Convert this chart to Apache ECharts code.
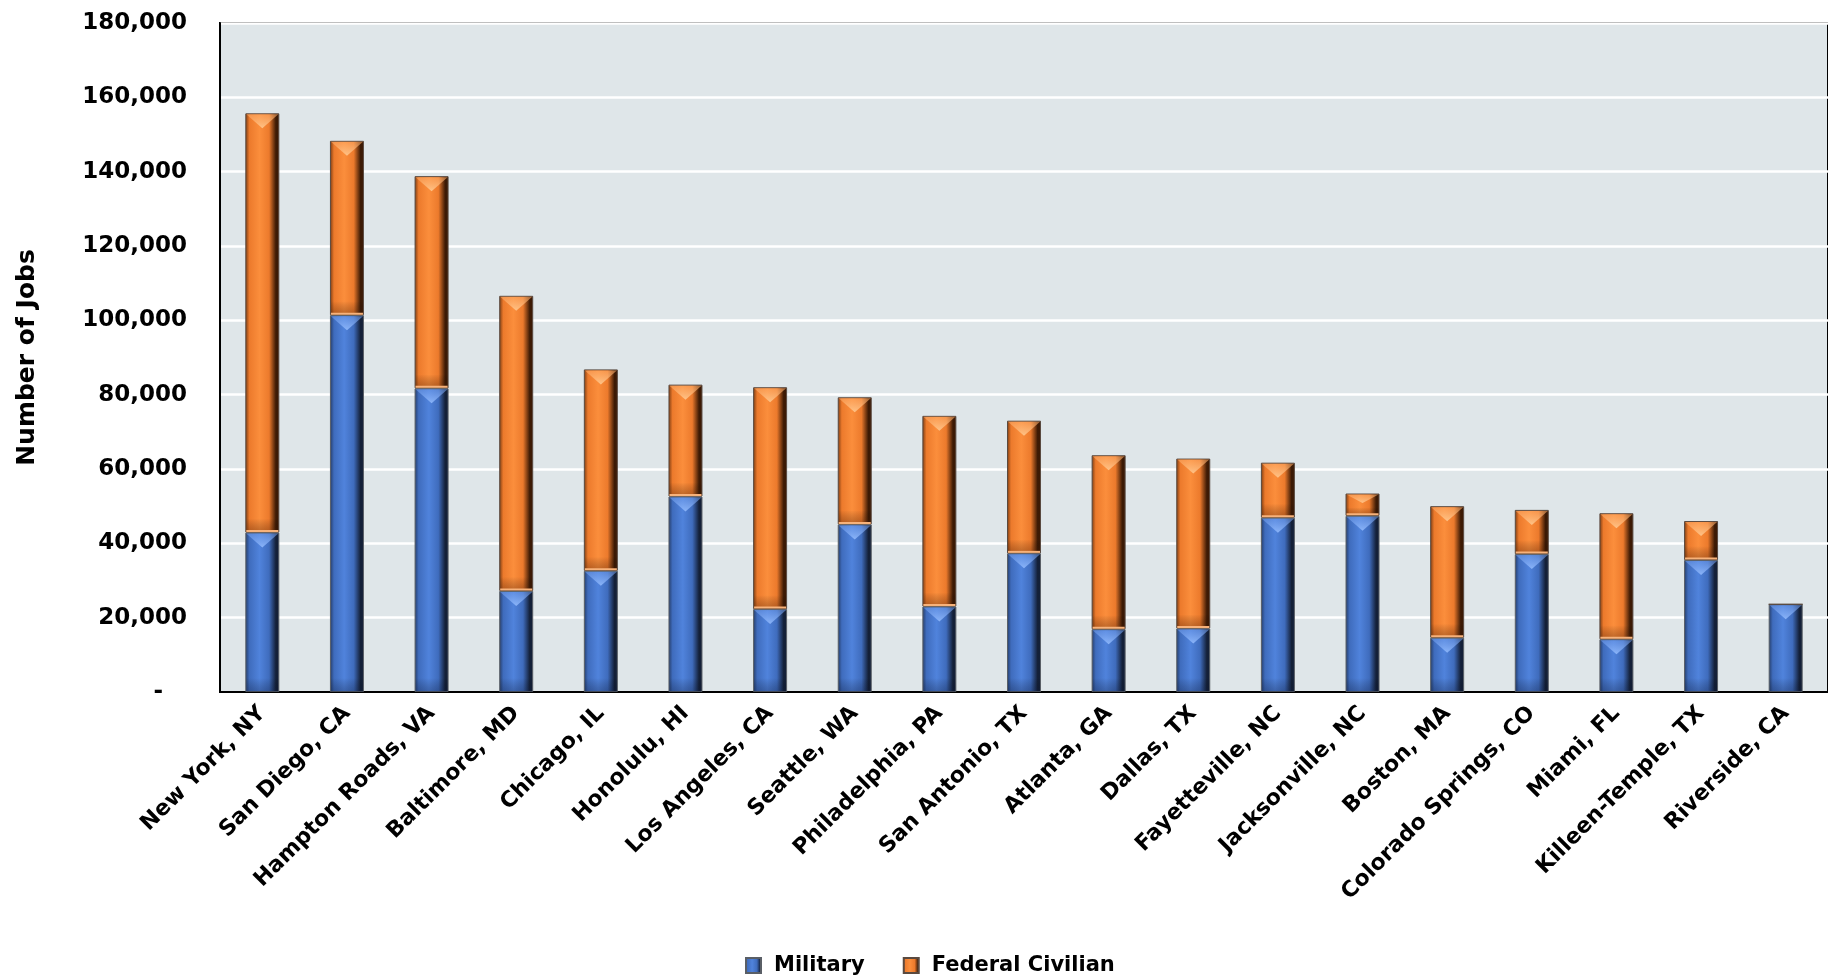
<!DOCTYPE html>
<html>
<head>
<meta charset="utf-8">
<title>Defense Jobs by Metro Area</title>
<script src="https://cdn.jsdelivr.net/npm/echarts@6/dist/echarts.min.js"></script>
<style>
  html, body { margin: 0; padding: 0; background: #ffffff; }
  #chart { width: 1828px; height: 977px; }
</style>
</head>
<body>
<div id="chart"></div>
<script>
// Metro areas, ordered by total defense employment
const metros = [
  'New York, NY', 'San Diego, CA', 'Hampton Roads, VA', 'Baltimore, MD', 'Chicago, IL',
  'Honolulu, HI', 'Los Angeles, CA', 'Seattle, WA', 'Philadelphia, PA', 'San Antonio, TX',
  'Atlanta, GA', 'Dallas, TX', 'Fayetteville, NC', 'Jacksonville, NC', 'Boston, MA',
  'Colorado Springs, CO', 'Miami, FL', 'Killeen-Temple, TX', 'Riverside, CA'
];

// Uniformed military jobs
const military = [
  42900, 101400, 81700, 27200, 32600,
  52600, 22300, 45100, 23000, 37300,
  16900, 17100, 46900, 47400, 14600,
  37100, 14200, 35500, 23600
];

// Federal civilian jobs (stacked on top of military)
const federalCivilian = [
  112800, 46900, 57100, 79400, 54200,
  30100, 59700, 34200, 51300, 35700,
  46800, 45700, 14800, 6000, 35400,
  11900, 33900, 10500, 0
];

const seriesNames = ['Military', 'Federal Civilian'];
const yTicks = { min: 0, max: 180000, step: 20000 };

const FONT = '"DejaVu Sans", "Open Sans", sans-serif';
const BAR_W = 34;

function cylinder(edgeL, mid, bright, edgeR) {
  return new echarts.graphic.LinearGradient(0, 0, 1, 0, [
    { offset: 0, color: edgeL },
    { offset: 0.12, color: mid },
    { offset: 0.42, color: bright },
    { offset: 0.7, color: mid },
    { offset: 0.9, color: edgeR },
    { offset: 1, color: edgeR }
  ]);
}

const blueFill = cylinder('#243b66', '#3f6cbd', '#5083dc', '#142038');
const orangeFill = cylinder('#7a3a10', '#ec7a2c', '#fb8e3c', '#3c1a05');

// Bevel segments: [category index, lower value, upper value, kind (0 = military, 1 = civilian)]
const bevelData = [];
metros.forEach(function (_, i) {
  bevelData.push([i, 0, military[i], 0]);
  if (federalCivilian[i] > 0) {
    bevelData.push([i, military[i], military[i] + federalCivilian[i], 1]);
  }
});

function renderBevel(params, api) {
  const i = api.value(0);
  const lo = api.value(1);
  const hi = api.value(2);
  const kind = api.value(3);
  const top = api.coord([i, hi]);
  const bot = api.coord([i, lo]);
  const cx = top[0];
  const xl = cx - BAR_W / 2 + 1;
  const xr = cx + BAR_W / 2 - 1;
  const yt = top[1] + 1;
  const yb = bot[1];
  const h = Math.min(14, (yb - yt) / 2.5);
  const children = [];
  // darker shading at the foot of the segment
  children.push({
    type: 'rect',
    shape: { x: xl, y: yb - h, width: xr - xl, height: h },
    style: {
      fill: new echarts.graphic.LinearGradient(0, 0, 0, 1, [
        { offset: 0, color: 'rgba(0,0,0,0)' },
        { offset: 1, color: kind === 1 ? 'rgba(70,25,0,0.35)' : 'rgba(10,20,50,0.3)' }
      ])
    }
  });
  // downward chevron highlight at the top face
  children.push({
    type: 'polygon',
    shape: { points: [[xl, yt], [xr, yt], [cx, yt + h]] },
    style: {
      fill: new echarts.graphic.LinearGradient(0, 0, 0, 1, kind === 1 ? [
        { offset: 0, color: 'rgba(255,170,100,0.55)' },
        { offset: 1, color: 'rgba(255,205,150,0.85)' }
      ] : [
        { offset: 0, color: 'rgba(110,155,235,0.55)' },
        { offset: 1, color: 'rgba(150,190,255,0.85)' }
      ])
    }
  });
  // thin light seam where the civilian segment sits on the military one
  if (kind === 1) {
    children.push({
      type: 'line',
      shape: { x1: xl, y1: yb - 1.5, x2: xr, y2: yb - 1.5 },
      style: { stroke: '#f7b27a', lineWidth: 2 }
    });
  }
  return { type: 'group', children: children };
}

const chart = echarts.init(document.getElementById('chart'), null, { renderer: 'canvas' });

chart.setOption({
  animation: false,
  backgroundColor: '#ffffff',
  grid: {
    left: 220, top: 23, right: -14, bottom: 285,
    show: true,
    backgroundColor: '#dfe6e9',
    borderColor: '#000000',
    borderWidth: 2
  },
  legend: {
    data: seriesNames,
    left: 740,
    top: 950,
    itemWidth: 15,
    itemHeight: 15,
    itemGap: 38,
    icon: 'rect',
    textStyle: { fontFamily: FONT, fontWeight: 'bold', fontSize: 21, color: '#000000', padding: [0, 0, 0, 8] }
  },
  xAxis: {
    type: 'category',
    data: metros,
    axisLine: { show: true, lineStyle: { color: '#000000', width: 2 } },
    axisTick: { show: false },
    axisLabel: {
      interval: 0,
      rotate: 45,
      margin: 18,
      fontFamily: FONT,
      fontWeight: 'bold',
      fontSize: 22,
      color: '#000000'
    }
  },
  yAxis: {
    type: 'value',
    min: yTicks.min,
    max: yTicks.max,
    interval: yTicks.step,
    name: 'Number of Jobs',
    nameLocation: 'middle',
    nameGap: 180,
    nameRotate: 90,
    nameTextStyle: { fontFamily: FONT, fontWeight: 'bold', fontSize: 25, color: '#000000' },
    axisLine: { show: true, lineStyle: { color: '#000000', width: 2 } },
    axisTick: { show: false },
    splitLine: { show: true, lineStyle: { color: '#ffffff', width: 2.5 } },
    axisLabel: {
      margin: 33,
      fontFamily: FONT,
      fontWeight: 'bold',
      fontSize: 23,
      color: '#000000',
      formatter: function (v) {
        return v === 0 ? '-   ' : v.toLocaleString('en-US');
      }
    }
  },
  series: [
    {
      name: seriesNames[0],
      type: 'bar',
      stack: 'jobs',
      barWidth: BAR_W,
      data: military,
      itemStyle: { color: blueFill, borderColor: '#5a5f66', borderWidth: 1 }
    },
    {
      name: seriesNames[1],
      type: 'bar',
      stack: 'jobs',
      barWidth: BAR_W,
      data: federalCivilian,
      itemStyle: { color: orangeFill, borderColor: '#5a4a40', borderWidth: 1 }
    },
    {
      name: 'bevel',
      type: 'custom',
      silent: true,
      z: 5,
      renderItem: renderBevel,
      encode: { x: 0, y: 2 },
      data: bevelData
    }
  ]
});
</script>
</body>
</html>
